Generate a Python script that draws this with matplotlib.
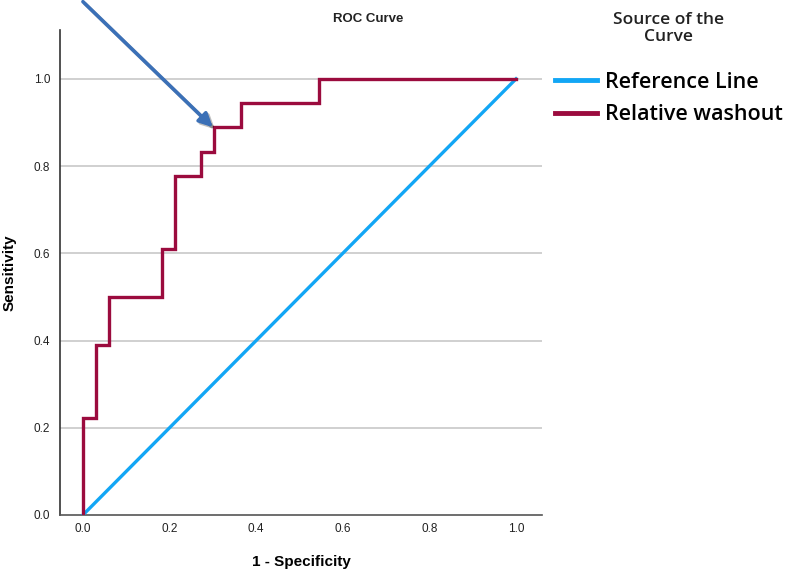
import matplotlib
matplotlib.use("Agg")
import matplotlib.pyplot as plt
from matplotlib.lines import Line2D
import matplotlib.patheffects as pe

# ROC curve vertices for "Relative washout"
fpr = [0.0, 0.0, 0.030, 0.030, 0.061, 0.061, 0.182, 0.182, 0.212, 0.212,
       0.273, 0.273, 0.303, 0.303, 0.364, 0.364, 0.545, 0.545, 1.0]
tpr = [0.0, 0.222, 0.222, 0.389, 0.389, 0.500, 0.500, 0.611, 0.611, 0.778,
       0.778, 0.833, 0.833, 0.889, 0.889, 0.944, 0.944, 1.0, 1.0]
ref_x = [0.0, 1.0]
ref_y = [0.0, 1.0]

ticks = [0.0, 0.2, 0.4, 0.6, 0.8, 1.0]
tick_labels = ["0.0", "0.2", "0.4", "0.6", "0.8", "1.0"]

series_names = ["Reference Line", "Relative washout"]
ref_color = "#12a6f5"
roc_color = "#9b0b3e"

fig = plt.figure(figsize=(7.86, 5.74), dpi=100)
ax = fig.add_axes([0.0763, 0.1028, 0.6133, 0.8449])

for y in ticks[1:]:
    ax.axhline(y, color="#c4c4c4", linewidth=1.1, zorder=1)

ax.plot(ref_x, ref_y, color=ref_color, linewidth=2.4, zorder=3)
ax.plot(fpr, tpr, color=roc_color, linewidth=2.4, zorder=4,
        solid_joinstyle="miter")

ax.set_xlim(-0.053, 1.06)
ax.set_ylim(0.0, 1.112)
ax.set_xticks(ticks)
ax.set_xticklabels(tick_labels)
ax.set_yticks(ticks)
ax.set_yticklabels(tick_labels)
ax.tick_params(axis="both", labelsize=8.5, colors="#222222", length=0)
ax.tick_params(axis="x", pad=6)
ax.tick_params(axis="y", pad=7)
for lab in ax.get_xticklabels() + ax.get_yticklabels():
    lab.set_family("Liberation Sans")

ax.spines["top"].set_visible(False)
ax.spines["right"].set_visible(False)
ax.spines["left"].set_color("#333333")
ax.spines["bottom"].set_color("#555555")
ax.spines["left"].set_linewidth(1.2)
ax.spines["bottom"].set_linewidth(1.2)

ax.set_xlabel("1 - Specificity", fontsize=11, fontweight="bold",
              family="Liberation Sans", labelpad=14)
ax.set_ylabel("Sensitivity", fontsize=11, fontweight="bold",
              family="Liberation Sans", labelpad=12)

fig.text(0.468, 0.967, "ROC Curve", ha="center", va="center",
         fontsize=9.5, fontweight="bold", family="Liberation Sans",
         color="#222222")

# arrow pointing to the optimal cut-off
ax.annotate("", xy=(0.300, 0.889), xytext=(0.0, 1.177),
            annotation_clip=False,
            arrowprops=dict(arrowstyle="-|>", color="#3b70b7", lw=2.6,
                            mutation_scale=20, shrinkA=0, shrinkB=0,
                            path_effects=[pe.SimpleLineShadow(offset=(1.5, -1.5), alpha=0.25),
                                          pe.Normal()]),
            zorder=6)

# legend
fig.text(0.850, 0.951, "Source of the\nCurve", ha="center", va="center",
         fontsize=12.5, fontweight="semibold", family="Open Sans",
         color="#222222", linespacing=1.1)
handles = [Line2D([], [], color=ref_color, linewidth=3.5),
           Line2D([], [], color=roc_color, linewidth=3.5)]
fig.legend(handles, series_names, loc="upper left",
           bbox_to_anchor=(0.706, 0.875), frameon=False, borderpad=0,
           borderaxespad=0,
           handlelength=1.95, handletextpad=0.37, labelspacing=0.54,
           prop={"family": "Open Sans", "weight": "semibold", "size": 15.5})

fig.savefig("out.png", dpi=100)
